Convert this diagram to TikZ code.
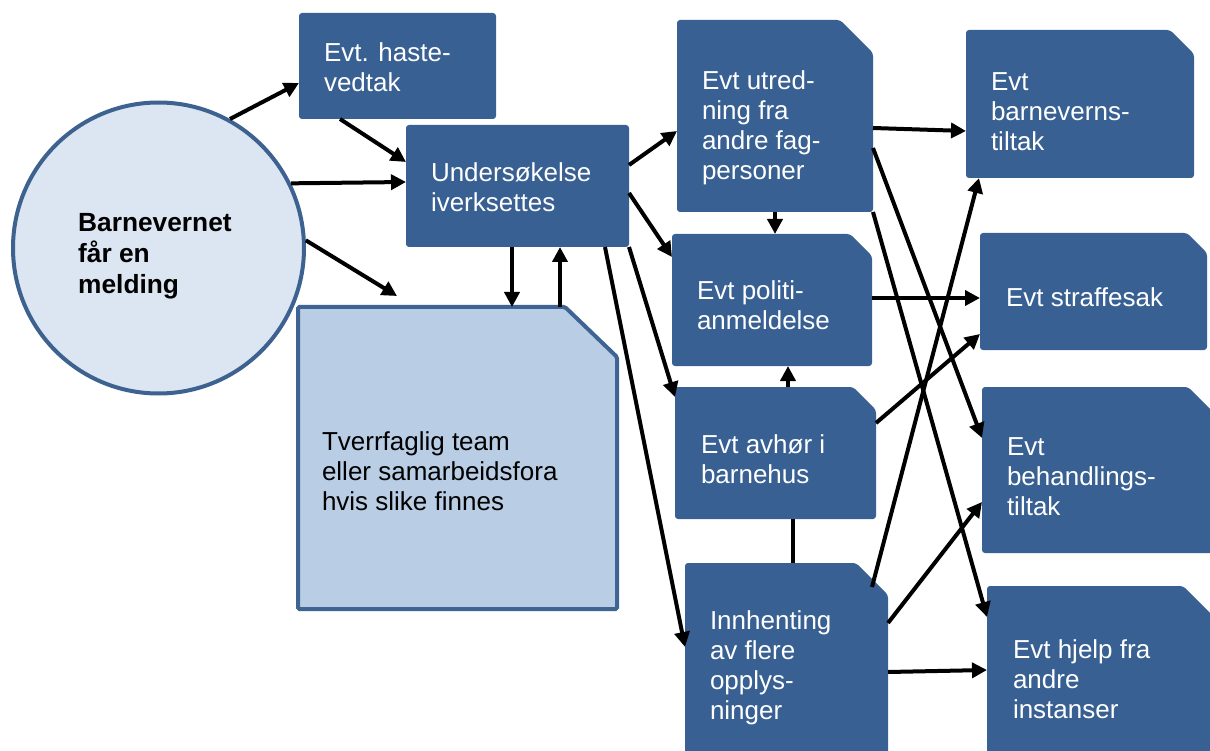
\documentclass[tikz,border=0pt]{standalone}
\usepackage{fontspec}
\setmainfont{Liberation Sans}
\usetikzlibrary{arrows.meta,fit,calc}
\definecolor{boxblue}{RGB}{56,96,146}
\definecolor{tvfill}{RGB}{185,205,229}
\definecolor{tvline}{RGB}{62,100,148}
\definecolor{circfill}{RGB}{220,230,242}
\definecolor{circline}{RGB}{61,98,144}
\tikzset{
  darkbox/.style={fill=boxblue, rounded corners=3pt},
  txt/.style={anchor=north west, inner sep=0pt, outer sep=0pt, align=left, text=white, font=\fontsize{26}{30}\selectfont},
  arr/.style={line width=4pt, draw=black, -{Triangle[length=15pt,width=15pt]}},
  plainline/.style={line width=4pt, draw=black},
  fitbox/.style={inner sep=0pt, outer sep=0pt}
}
% #1 name, #2 x1, #3 y1, #4 x2, #5 y2, #6 cut
\newcommand\mkcut[6]{%
  \fill[darkbox] (#2,#3) -- (#4-#6,#3) -- (#4,#3+#6) -- (#4,#5) -- (#2,#5) -- cycle;
  \node[fitbox, fit={(#2,#3) (#4,#5)}] (#1) {};
}
\newcommand\mkbox[5]{%
  \fill[darkbox] (#2,#3) rectangle (#4,#5);
  \node[fitbox, fit={(#2,#3) (#4,#5)}] (#1) {};
}
\begin{document}
\begin{tikzpicture}[x=1pt,y=-1pt]
\useasboundingbox (0,0) rectangle (1210,751);
\clip (0,0) rectangle (1210,751);
\fill[white] (0,0) rectangle (1210,751);

% circle
\node[circle, draw=circline, fill=circfill, line width=4pt, minimum size=291pt, inner sep=0pt] (circ) at (158.5,248) {};
\node[anchor=north west, inner sep=0pt, align=left, font=\fontsize{26.3}{31}\selectfont\bfseries] (circtxt) at (78,213) {Barnevernet\\får en\\melding};

% boxes
\mkbox{haste}{299}{13}{496}{119}
\mkbox{und}{406}{125}{629}{247}
\draw[fill=tvfill, draw=tvline, line width=4pt, rounded corners=1.5pt] (298,307) -- (565,307) -- (617,357) -- (617,609) -- (298,609) -- cycle;
\node[fitbox, fit={(298,307) (617,609)}] (tverr) {};
\mkcut{utr}{677}{20}{873}{212}{33}
\mkcut{pol}{672}{234}{872}{366}{22}
\mkcut{avh}{675}{387}{876}{519}{23}
\mkcut{inn}{685}{563}{888}{762}{32}
\mkcut{barn}{966}{30}{1194}{178}{24}
\mkcut{straf}{980}{233}{1207}{350}{20}
\mkcut{beh}{982}{387}{1214}{553}{26}
\mkcut{hjelp}{987}{586}{1215}{762}{32}

% texts
\node[txt] (t1) at (324,43) {Evt. haste-\\vedtak};
\node[txt] (t2) at (431,163) {Undersøkelse\\iverksettes};
\node[txt, text=black] (t3) at (322,432) {Tverrfaglig team\\eller samarbeidsfora\\hvis slike finnes};
\node[txt] (t4) at (702,71) {Evt utred-\\ning fra\\andre fag-\\personer};
\node[txt] (t5) at (697,281) {Evt politi-\\anmeldelse};
\node[txt] (t6) at (701,435) {Evt avhør i\\barnehus};
\node[txt] (t7) at (710,611) {Innhenting\\av flere\\opplys-\\ninger};
\node[txt] (t8) at (991,73) {Evt\\barneverns-\\tiltak};
\node[txt] (t9) at (1006,288) {Evt straffesak};
\node[txt] (t10) at (1007,438) {Evt\\behandlings-\\tiltak};
\node[txt] (t11) at (1013,640) {Evt hjelp fra\\andre\\instanser};

% connectors
\draw[arr] (circ.61) -- (haste.west |- 0,83);
\draw[arr] (haste.south -| 340,0) -- (und.west |- 0,162);
\draw[arr] (circ.26) -- (und.west |- 0,182);
\coordinate (tvin) at ($(tverr.north west)+(99,-11)$);
\draw[arr] (circ.3) -- (tvin);
\draw[arr] (und.south -| 512,0) -- (tverr.north -| 512,0);
\draw[arr] (tverr.north -| 560,0) -- (und.south -| 560,0);
\draw[arr] (und.east |- 0,165) -- (utr.west |- 0,131);
\draw[arr] (und.east |- 0,193) -- (pol.west |- 0,257);
\draw[arr] (und.south east) -- (avh.west |- 0,397);
\draw[arr] (und.south -| 605,0) -- (inn.west |- 0,647);
\draw[arr] (utr.south -| 775,0) -- (pol.north -| 775,0);
\draw[arr] (avh.north -| 788,0) -- (pol.south -| 788,0);
\draw[plainline] (avh.south -| 793,0) -- (inn.north -| 793,0);
\draw[arr] (utr.east |- 0,128) -- (barn.west |- 0,131);
\draw[arr] (utr.east |- 0,148) -- (beh.west |- 0,438);
\draw[arr] (utr.south east) -- (hjelp.west |- 0,617);
\draw[arr] (pol.east |- 0,298) -- (straf.west |- 0,298);
\draw[arr] (avh.east |- 0,423) -- (straf.west |- 0,334);
\draw[arr] ($(inn.north east)+(-16,24)$) -- (barn.south -| 979,0);
\draw[arr] (inn.east |- 0,623) -- (beh.west |- 0,502);
\draw[arr] (inn.east |- 0,672) -- (hjelp.west |- 0,670);
\end{tikzpicture}
\end{document}
